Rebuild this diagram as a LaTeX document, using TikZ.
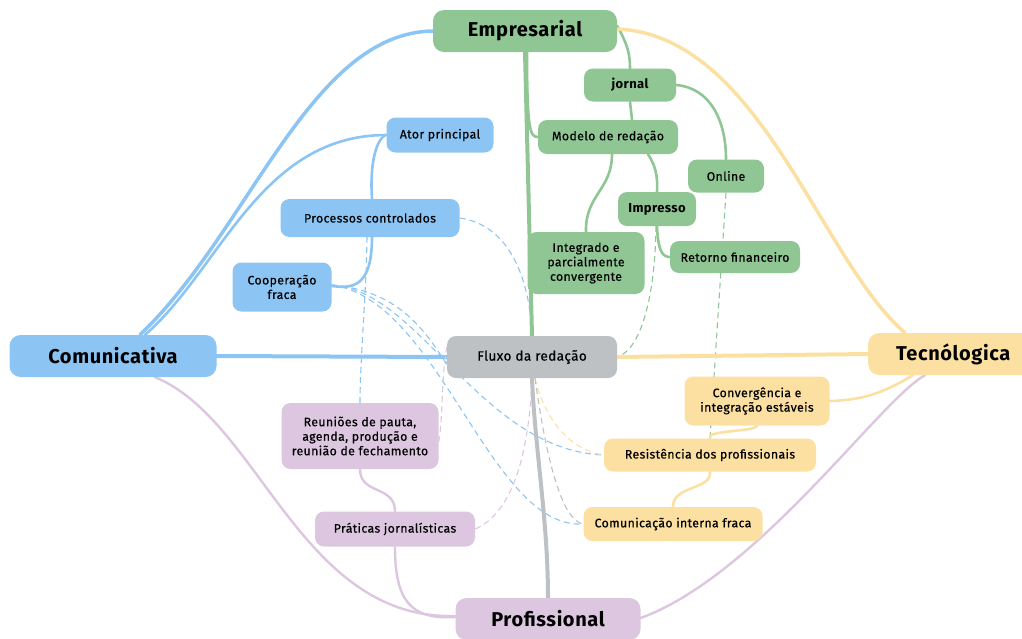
\documentclass[tikz,border=0pt]{standalone}
\usepackage{fontspec}
\setmainfont{Fira Sans}
\newfontfamily\medfont{Fira Sans}[FakeBold=0.5, LetterSpace=3]
\newfontfamily\bigfont{Fira Sans}[LetterSpace=3]
\usetikzlibrary{backgrounds}
\definecolor{cblue}{HTML}{8CC5F3}
\definecolor{cgreen}{HTML}{90C694}
\definecolor{cyell}{HTML}{FCE0A2}
\definecolor{cpurp}{HTML}{DDC7E0}
\definecolor{cgray}{HTML}{BDC1C4}
\tikzset{
  box/.style={rounded corners=9pt, draw=none, align=center, inner sep=0pt, text=black,
    font=\medfont\fontsize{12.3}{14.5}\selectfont},
  bigbox/.style={box, rounded corners=11pt, font=\bigfont\fontsize{20}{23}\selectfont\bfseries},
  midfont/.style={font=\bigfont\fontsize{13}{15}\selectfont\bfseries},
  gbox/.style={box, fill=cgreen},
  bbox/.style={box, fill=cblue},
  ybox/.style={box, fill=cyell},
  pbox/.style={box, fill=cpurp},
  xbox/.style={box, fill=cgray},
  gl/.style={draw=cgreen, line width=2.6pt, line cap=round},
  bl/.style={draw=cblue, line width=2.6pt, line cap=round},
  yl/.style={draw=cyell, line width=2.6pt, line cap=round},
  pl/.style={draw=cpurp, line width=2.4pt, line cap=round},
  xl/.style={draw=cgray, line width=2.6pt, line cap=round},
  dl/.style={line width=1.1pt, dash pattern=on 6pt off 4pt},
}
\begin{document}
\begin{tikzpicture}[x=1pt,y=-1pt]
\useasboundingbox (0,0) rectangle (1022,638);
% main nodes
\node[bigbox, fill=cgreen, minimum width=184pt, minimum height=42pt] (emp) at (525,31) {Empresarial};
\node[bigbox, fill=cblue, minimum width=207pt, minimum height=42pt] (com) at (113,356) {Comunicativa};
\node[bigbox, fill=cyell, minimum width=168pt, minimum height=42pt, anchor=west] (tec) at (868,354) {\hspace*{2pt}Tecnólogica};
\node[bigbox, fill=cpurp, minimum width=185pt, minimum height=42pt] (pro) at (548,619) {Profissional};
\node[xbox, minimum width=170pt, minimum height=42pt, font=\medfont\fontsize{13.5}{15}\selectfont] (flu) at (532,357) {Fluxo da redação};
% green
\node[gbox, minimum width=92pt, minimum height=33pt, midfont] (jor) at (630,85) {jornal};
\node[gbox, minimum width=140pt, minimum height=34pt] (mod) at (608,137) {Modelo de redação};
\node[gbox, minimum width=76pt, minimum height=33pt] (onl) at (726,176) {Online};
\node[gbox, minimum width=78pt, minimum height=34pt, midfont] (imp) at (657,209) {Impresso};
\node[gbox, minimum width=117pt, minimum height=62pt] (int) at (586,263) {Integrado e\\parcialmente\\convergente};
\node[gbox, minimum width=130pt, minimum height=32pt] (ret) at (735,257) {Retorno financeiro};
% blue
\node[bbox, minimum width=107pt, minimum height=35pt] (ato) at (440,135) {Ator principal};
\node[bbox, minimum width=179pt, minimum height=38pt] (prc) at (370,218) {Processos controlados};
\node[bbox, minimum width=99pt, minimum height=49pt] (coo) at (282,287) {Cooperação\\fraca};
% yellow
\node[ybox, minimum width=145pt, minimum height=49pt] (cnv) at (757,401) {Convergência e\\integração estáveis};
\node[ybox, minimum width=212pt, minimum height=33pt] (res) at (710,455) {Resistência dos profissionais};
\node[ybox, minimum width=179pt, minimum height=34pt] (cin) at (673,524) {Comunicação interna fraca};
% purple
\node[pbox, minimum width=157pt, minimum height=66pt] (reu) at (360,436) {Reuniões de pauta,\\agenda, produção e\\reunião de fechamento};
\node[pbox, minimum width=160pt, minimum height=35pt] (pra) at (395,529) {Práticas jornalísticas};

\begin{scope}[on background layer]
% blue solid
\draw[bl, line width=3.5pt] ([xshift=27pt]com.north) .. controls (250,230) and (310,33) .. (emp.west);
\draw[bl] ([xshift=32pt]com.north) .. controls (220,270) and (260,135) .. (ato.west);
\draw[bl] ([xshift=-1pt]ato.west) .. controls (374,142) and (370,170) .. ([xshift=2pt]prc.north);
\draw[bl] ([xshift=2pt]prc.south) .. controls (372,290) and (350,288) .. ([yshift=1pt]coo.east);
\draw[bl, line width=4pt] (com.east) -- (flu.west);
% blue dashed
\draw[cblue, dl] (prc.east) .. controls (510,225) and (530,280) .. (flu.north);
\draw[cblue, dl] ([xshift=-3pt]prc.south) .. controls (366,300) and (360,360) .. (reu.north);
\draw[cblue, dl] ([yshift=2pt]coo.east) .. controls (390,290) and (420,320) .. ([yshift=-8pt]flu.west);
\draw[cblue, dl] ([yshift=2pt]coo.east) .. controls (420,290) and (480,450) .. (res.west);
\draw[cblue, dl] ([yshift=2pt]coo.east) .. controls (440,300) and (490,530) .. (cin.west);
% green solid
\draw[gl, line width=4pt] (emp.south) -- (flu.north);
\draw[gl] ([xshift=2pt]emp.south) .. controls (527,130) and (530,137) .. (mod.west);
\draw[gl] ([yshift=5pt]emp.east) .. controls (628,45) and (630,55) .. (jor.north);
\draw[gl] (jor.east) .. controls (710,88) and (726,120) .. (onl.north);
\draw[gl] (jor.south) -- ([xshift=24pt]mod.north);
\draw[gl] ([xshift=4pt]mod.south) .. controls (612,190) and (585,195) .. (int.north);
\draw[gl] ([xshift=40pt]mod.south) .. controls (655,165) and (658,175) .. (imp.north);
\draw[gl] (imp.south) .. controls (658,250) and (662,257) .. (ret.west);
% green dashed
\draw[cgreen, dl] (onl.south) -- (res.north);
\draw[cgreen, dl] ([xshift=-1pt]imp.south) .. controls (655,300) and (640,350) .. (flu.east);
% yellow solid
\draw[yl, line width=3.5pt] ([yshift=2pt]emp.east) .. controls (760,35) and (820,260) .. ([xshift=37pt]tec.north west);
\draw[yl, line width=4pt] (flu.east) -- (tec.west);
\draw[yl] ([xshift=45pt]tec.south west) .. controls (880,395) and (860,400) .. (cnv.east);
\draw[yl] (cnv.south) .. controls (755,432) and (705,430) .. (res.north);
\draw[yl] (res.south) .. controls (712,490) and (673,485) .. (cin.north);
% yellow dashed
\draw[cyell, dl] ([xshift=3pt]flu.south) .. controls (545,420) and (570,450) .. (res.west);
% purple solid
\draw[pl] ([xshift=42pt]com.south) .. controls (260,420) and (300,620) .. ([yshift=3pt]pro.west);
\draw[pl] ([xshift=57pt]tec.south west) .. controls (880,400) and (758,575) .. ([yshift=1pt]pro.east);
\draw[pl] (reu.south) .. controls (360,495) and (395,485) .. (pra.north);
\draw[pl] (pra.south) .. controls (395,600) and (410,620) .. ([yshift=2pt]pro.west);
% purple dashed
\draw[cpurp, dl] ([yshift=-6pt]reu.east) .. controls (443,420) and (441,380) .. ([yshift=10pt]flu.west);
\draw[cpurp, dl] (pra.east) .. controls (520,510) and (530,430) .. (flu.south);
% gray
\draw[xl, line width=4pt] (flu.south) .. controls (535,450) and (548,520) .. (pro.north);
\draw[cgray, dl] ([xshift=3pt]flu.south) .. controls (545,450) and (560,520) .. (cin.west);
\end{scope}
\end{tikzpicture}
\end{document}
